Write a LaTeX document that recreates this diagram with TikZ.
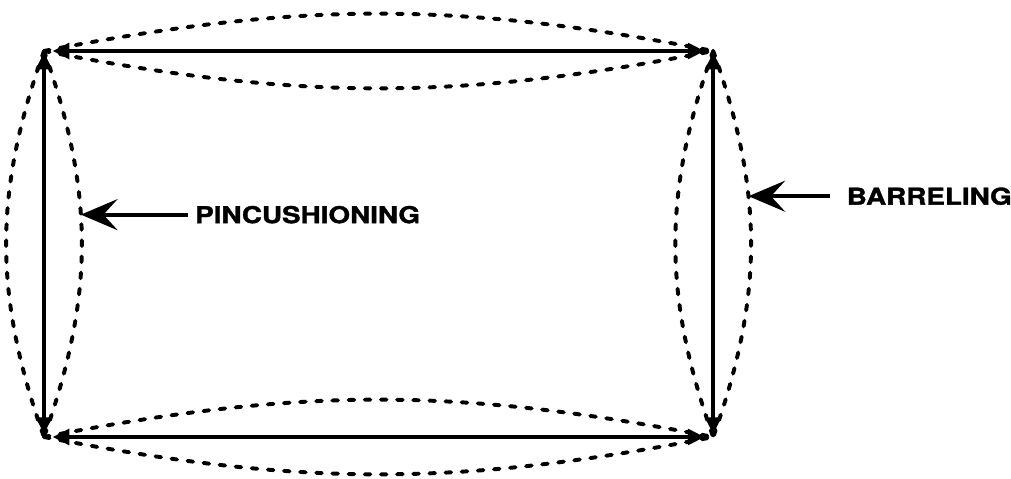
\documentclass[tikz,border=0pt]{standalone}
\usepackage{fontspec}
\newfontfamily\lblfont[FakeStretch=1.2,FakeBold=1.5]{TeX Gyre Heros}
\usetikzlibrary{arrows.meta, positioning}

\tikzset{
    edge/.style={line width=3pt, {Triangle[length=12pt,width=11pt]}-{Triangle[length=12pt,width=11pt]}},
    bulge/.style={line width=2.8pt, dash pattern=on 4pt off 7.5pt, line cap=round},
    lbl/.style={inner sep=0pt, font=\lblfont\bfseries\fontsize{16.5}{19}\selectfont},
    pointer/.style={line width=3pt, -{Stealth[length=26pt,width=22pt,inset=10pt]}}
}

\begin{document}
\begin{tikzpicture}
        \useasboundingbox (0,0) rectangle (25.275,11.975);

        \coordinate (TL) at (1.1,10.7);
        \coordinate (TR) at (17.83,10.7);
        \coordinate (BL) at (1.1,1.05);
        \coordinate (BR) at (17.83,1.05);

        % the ideal frame
        \draw[edge, shorten <=6pt, shorten >=6pt] (TL) -- (TR);
        \draw[edge, shorten <=6pt, shorten >=6pt] (BL) -- (BR);
        \draw[edge, shorten <=2pt, shorten >=1pt] (BL) -- (TL);
        \draw[edge, shorten <=2pt, shorten >=1pt] (BR) -- (TR);

        % distorted edges
        \draw[bulge] (TL) to[bend left=11] (TR);
        \draw[bulge] (TL) to[bend right=11] (TR);
        \draw[bulge] (BL) to[bend right=11] (BR);
        \draw[bulge] (BL) to[bend left=11] (BR);
        \draw[bulge] (TL) to[bend right=19.6] (BL);
        \draw[bulge] (TL) to[bend left=19.6] coordinate[pos=0.42] (pc) (BL);
        \draw[bulge] (TR) to[bend right=19.6] (BR);
        \draw[bulge] (TR) to[bend left=19.6] coordinate[pos=0.37] (bc) (BR);

        \node[lbl, right=2.85cm of pc] (pin) {PINCUSHIONING};
        \node[lbl, right=2.45cm of bc] (bar) {BARRELING};

        \draw[pointer, shorten <=5pt] (pin.west) -- (pc);
        \draw[pointer, shorten <=12pt] (bar.west) -- (bc);
    \end{tikzpicture}
\end{document}
